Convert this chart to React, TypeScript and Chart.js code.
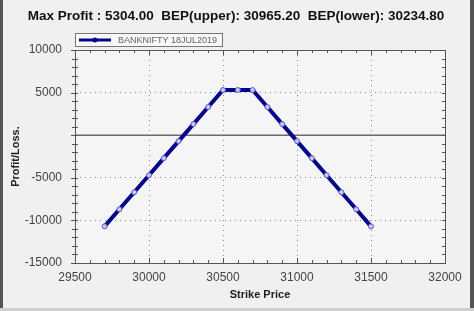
import React, { useEffect, useRef } from "react";
import { Chart, registerables } from "chart.js";

Chart.register(...registerables);

const strikes = [29700, 29800, 29900, 30000, 30100, 30200, 30300, 30400, 30500, 30600, 30700, 30800, 30900, 31000, 31100, 31200, 31300, 31400, 31500];
const pnl = [-10696, -8696, -6696, -4696, -2696, -696, 1304, 3304, 5304, 5304, 5304, 3304, 1304, -696, -2696, -4696, -6696, -8696, -10696];
const seriesName = "BANKNIFTY 18JUL2019";
const titleText = "Max Profit : 5304.00  BEP(upper): 30965.20  BEP(lower): 30234.80";
const xTitle = "Strike Price";
const yTitle = "Profit/Loss.";
const xMin = 29500, xMax = 32000, xStep = 500, xMinor = 100;
const yMin = -15000, yMax = 10000, yStep = 5000, yMinor = 1000;

const LINE = "#06068a";
const FONT = "'Liberation Sans', Arial, sans-serif";

const decor = {
  id: "decor",
  beforeDraw(chart: any) {
    const { ctx, chartArea: a, width, height } = chart;
    ctx.save();
    ctx.fillStyle = "#f0f0f0";
    ctx.fillRect(0, 0, width, height);
    ctx.fillStyle = "#f5f5f5";
    ctx.fillRect(a.left, a.top, a.right - a.left, a.bottom - a.top);
    ctx.restore();
  },
  beforeDatasetsDraw(chart: any) {
    const { ctx, chartArea: a, scales } = chart;
    const y0 = scales.y.getPixelForValue(0);
    ctx.save();
    ctx.strokeStyle = "#6a6a6a";
    ctx.lineWidth = 1.5;
    ctx.beginPath();
    ctx.moveTo(a.left, y0);
    ctx.lineTo(a.right, y0);
    ctx.stroke();
    ctx.restore();
  },
  afterDraw(chart: any) {
    const { ctx, chartArea: a, scales, width, height } = chart;
    ctx.save();
    ctx.strokeStyle = "#555";
    ctx.lineWidth = 1;
    ctx.strokeRect(Math.round(a.left) + 0.5, Math.round(a.top) + 0.5, Math.round(a.right - a.left), Math.round(a.bottom - a.top));
    ctx.beginPath();
    for (let v = xMin; v <= xMax; v += xMinor) {
      const px = Math.round(scales.x.getPixelForValue(v)) + 0.5;
      const len = v % xStep === 0 ? 5 : 3;
      ctx.moveTo(px, a.bottom);
      ctx.lineTo(px, a.bottom - len);
      ctx.moveTo(px, a.top);
      ctx.lineTo(px, a.top + len);
    }
    for (let v = yMin; v <= yMax; v += yMinor) {
      const py = Math.round(scales.y.getPixelForValue(v)) + 0.5;
      const major = v % yStep === 0;
      ctx.moveTo(a.left - (major ? 4 : 3), py);
      ctx.lineTo(a.left + 3, py);
      ctx.moveTo(a.right, py);
      ctx.lineTo(a.right - 3, py);
    }
    ctx.stroke();

    ctx.fillStyle = "#111";
    ctx.font = `bold 13.5px ${FONT}`;
    ctx.textAlign = "center";
    ctx.textBaseline = "middle";
    ctx.fillText(titleText, 236, 16);

    const lx = 75, ly = 33, lw = 147, lh = 13;
    ctx.fillStyle = "#f7f7f7";
    ctx.fillRect(lx, ly, lw, lh);
    ctx.strokeStyle = "#777";
    ctx.lineWidth = 1;
    ctx.strokeRect(lx + 0.5, ly + 0.5, lw, lh);
    ctx.strokeStyle = LINE;
    ctx.lineWidth = 3;
    ctx.beginPath();
    ctx.moveTo(lx + 4, ly + 7);
    ctx.lineTo(lx + 36, ly + 7);
    ctx.stroke();
    ctx.fillStyle = LINE;
    ctx.beginPath();
    ctx.arc(lx + 20, ly + 7, 2.5, 0, Math.PI * 2);
    ctx.fill();
    ctx.fillStyle = "#666";
    ctx.font = `9px ${FONT}`;
    ctx.textAlign = "left";
    ctx.fillText(seriesName, lx + 43, ly + 7.5);

    ctx.fillStyle = "#555";
    ctx.fillRect(0, 0, 3, height);
    ctx.fillRect(width - 4, 0, 4, height);
    ctx.fillStyle = "#cfcfcf";
    ctx.fillRect(0, height - 3, width, 3);
    ctx.restore();
  },
};

export default function App() {
  const ref = useRef<HTMLCanvasElement>(null);
  useEffect(() => {
    document.body.style.margin = "0";
    const chart = new Chart(ref.current!, {
      type: "line",
      data: {
        datasets: [
          {
            label: seriesName,
            data: strikes.map((s, i) => ({ x: s, y: pnl[i] })),
            borderColor: LINE,
            borderWidth: 4,
            pointRadius: 2.5,
            pointBorderWidth: 1,
            pointBorderColor: "#5a5ac8",
            pointBackgroundColor: "#c8c8ee",
            tension: 0,
          },
        ],
      },
      options: {
        animation: false,
        responsive: false,
        maintainAspectRatio: false,
        layout: { padding: { left: 0, right: 29, top: 50, bottom: 0 } },
        plugins: { legend: { display: false }, title: { display: false }, tooltip: { enabled: false } },
        scales: {
          x: {
            type: "linear",
            min: xMin,
            max: xMax,
            afterFit: (s: any) => { s.height = 48; },
            ticks: {
              stepSize: xStep,
              padding: 7,
              color: "#444",
              font: { family: FONT, size: 12 },
              callback: (v: any) => String(v),
              maxRotation: 0,
            },
            grid: { color: "#8a8a8a", lineWidth: 1, drawTicks: false },
            border: { display: false, dash: [1, 4] },
            title: {
              display: true,
              text: xTitle,
              color: "#222",
              font: { family: FONT, size: 11, weight: "bold" },
              padding: { top: 2, bottom: 9 },
            },
          },
          y: {
            min: yMin,
            max: yMax,
            afterFit: (s: any) => { s.width = 75; },
            ticks: {
              stepSize: yStep,
              padding: 13,
              color: "#444",
              font: { family: FONT, size: 12 },
              callback: (v: any) => (v === 0 ? "" : String(v)),
            },
            grid: { color: "#8a8a8a", lineWidth: 1, drawTicks: false },
            border: { display: false, dash: [1, 4] },
            title: {
              display: true,
              text: yTitle,
              color: "#222",
              font: { family: FONT, size: 11, weight: "bold" },
              padding: { top: 9, bottom: 0 },
            },
          },
        },
      },
      plugins: [decor],
    } as any);
    return () => chart.destroy();
  }, []);
  return (
    <div style={{ width: 474, height: 311 }}>
      <canvas ref={ref} width={474} height={311} style={{ display: "block" }} />
    </div>
  );
}
